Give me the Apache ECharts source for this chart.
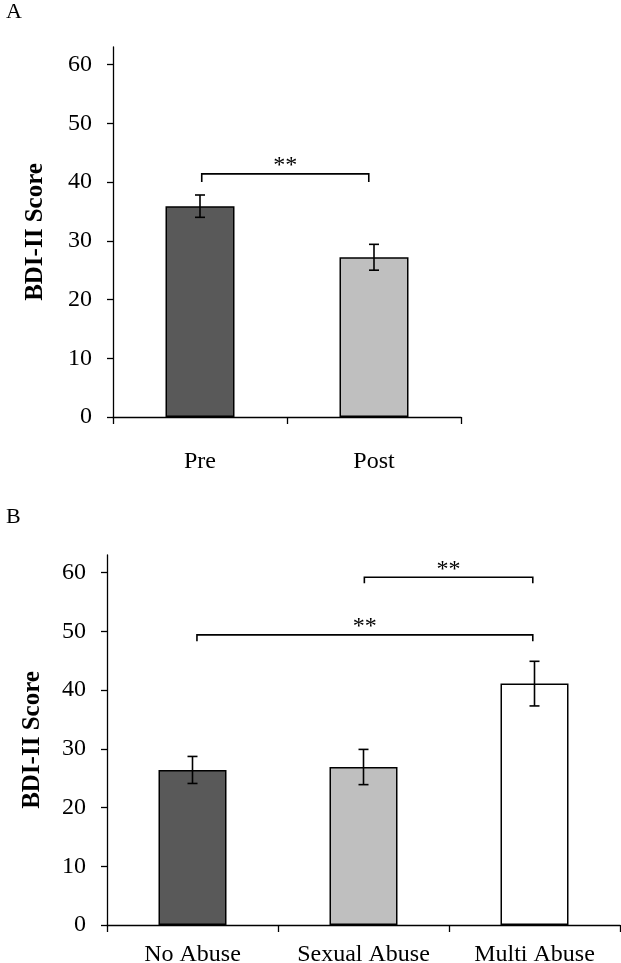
<!DOCTYPE html>
<html>
<head>
<meta charset="utf-8">
<script src="https://cdn.jsdelivr.net/npm/echarts@6/dist/echarts.min.js"></script>
<style>
html,body{margin:0;padding:0;background:#fff;}
#chart{width:621px;height:963px;}
</style>
</head>
<body>
<div id="chart"></div>
<script>
// ---- Data ----
const categoriesA = ['Pre', 'Post'];
const meansA = [35.9, 27.2];
const errorsA = [1.9, 2.2];
// brackets: [from x, to x, line value, end value]
const bracketsA = [[0.01, 0.97, 41.4, 40.0]];
const bracketLabelsA = ['**'];

const categoriesB = ['No Abuse', 'Sexual Abuse', 'Multi Abuse'];
const meansB = [26.4, 26.9, 41.1];
const errorsB = [2.3, 3.0, 3.8];
const bracketsB = [[1.005, 1.99, 59.2, 58.2], [0.026, 1.99, 49.4, 48.3]];
const bracketLabelsB = ['**', '**'];

const yTicks = [0, 10, 20, 30, 40, 50, 60];
const yMax = 63;
const yLabel = 'BDI-II Score';

// ---- Styles ----
const paletteA = ['#595959', '#bfbfbf'];
const paletteB = ['#595959', '#bfbfbf', '#ffffff'];
const FONT = 'Liberation Serif';

const chart = echarts.init(document.getElementById('chart'), null, {renderer: 'canvas'});

function yAxisCfg(gridIndex, nameGap) {
  return {
    type: 'value', gridIndex: gridIndex, min: 0, max: yMax, interval: 10,
    name: yLabel, nameLocation: 'middle', nameRotate: 90, nameGap: nameGap,
    nameTextStyle: {fontFamily: FONT, fontSize: 25, fontWeight: 'bold', color: '#000'},
    axisLine: {show: true, onZero: false, lineStyle: {color: '#000', width: 1.3}},
    axisTick: {show: true, length: 6, lineStyle: {color: '#000', width: 1.3}, customValues: yTicks},
    axisLabel: {fontFamily: FONT, fontSize: 24, color: '#000', margin: 21, customValues: yTicks},
    splitLine: {show: false}
  };
}
function xCatCfg(gridIndex, cats, margin) {
  return {
    type: 'category', gridIndex: gridIndex, data: cats,
    axisLine: {show: true, onZero: false, lineStyle: {color: '#000', width: 1.3}},
    axisTick: {show: true, length: 7, inside: false, interval: 0, lineStyle: {color: '#000', width: 1.3}},
    axisLabel: {fontFamily: FONT, fontSize: 24, color: '#000', margin: margin, interval: 0}
  };
}
function xValCfg(gridIndex, n) {
  return {type: 'value', gridIndex: gridIndex, min: -0.5, max: n - 0.5, show: false,
          axisLine: {onZero: false}};
}

function errData(means, errs) {
  return means.map((m, i) => [i, m - errs[i], m + errs[i]]);
}
function renderErr(params, api) {
  const top = api.coord([api.value(0), api.value(2)]);
  const bot = api.coord([api.value(0), api.value(1)]);
  const x = top[0], hw = 5;
  const st = {stroke: '#000', lineWidth: 1.6};
  return {type: 'group', children: [
    {type: 'line', shape: {x1: x, y1: top[1], x2: x, y2: bot[1]}, style: st},
    {type: 'line', shape: {x1: x - hw, y1: top[1], x2: x + hw, y2: top[1]}, style: st},
    {type: 'line', shape: {x1: x - hw, y1: bot[1], x2: x + hw, y2: bot[1]}, style: st}
  ]};
}
function makeBracketRenderer(labels) {
  return function (params, api) {
    const a = api.coord([api.value(0), api.value(2)]);
    const b = api.coord([api.value(1), api.value(2)]);
    const e = api.coord([api.value(0), api.value(3)]);
    return {type: 'group', children: [
      {type: 'polyline', shape: {points: [[a[0], e[1]], [a[0], a[1]], [b[0], a[1]], [b[0], e[1]]]},
       style: {stroke: '#000', lineWidth: 1.6, fill: null}},
      {type: 'text', x: (a[0] + b[0]) / 2, y: a[1] + 4,
       style: {text: labels[params.dataIndex], fontFamily: FONT, fontSize: 24, fill: '#000', align: 'center', verticalAlign: 'bottom'}}
    ]};
  };
}

const option = {
  backgroundColor: '#fff',
  animation: false,
  title: [
    {text: 'A', left: 1, top: -4, textStyle: {fontFamily: FONT, fontSize: 22, fontWeight: 'normal', color: '#000'}},
    {text: 'B', left: 1, top: 501, textStyle: {fontFamily: FONT, fontSize: 22, fontWeight: 'normal', color: '#000'}}
  ],
  grid: [
    {left: 113, top: 47, width: 348, height: 370, outerBoundsMode: 'none', containLabel: false},
    {left: 107, top: 555, width: 513, height: 370, outerBoundsMode: 'none', containLabel: false}
  ],
  xAxis: [
    xCatCfg(0, categoriesA, 33),
    xCatCfg(1, categoriesB, 18),
    xValCfg(0, categoriesA.length),
    xValCfg(1, categoriesB.length)
  ],
  yAxis: [yAxisCfg(0, 65), yAxisCfg(1, 62)],
  series: [
    {type: 'bar', xAxisIndex: 0, yAxisIndex: 0, barWidth: 69, data: meansA,
     itemStyle: {color: p => paletteA[p.dataIndex], borderColor: '#000', borderWidth: 1.5}},
    {type: 'custom', xAxisIndex: 0, yAxisIndex: 0, data: errData(meansA, errorsA), renderItem: renderErr, z: 5},
    {type: 'custom', xAxisIndex: 2, yAxisIndex: 0, data: bracketsA, renderItem: makeBracketRenderer(bracketLabelsA), z: 5},
    {type: 'bar', xAxisIndex: 1, yAxisIndex: 1, barWidth: 68, data: meansB,
     itemStyle: {color: p => paletteB[p.dataIndex], borderColor: '#000', borderWidth: 1.5}},
    {type: 'custom', xAxisIndex: 1, yAxisIndex: 1, data: errData(meansB, errorsB), renderItem: renderErr, z: 5},
    {type: 'custom', xAxisIndex: 3, yAxisIndex: 1, data: bracketsB, renderItem: makeBracketRenderer(bracketLabelsB), z: 5}
  ]
};
chart.setOption(option);
</script>
</body>
</html>
